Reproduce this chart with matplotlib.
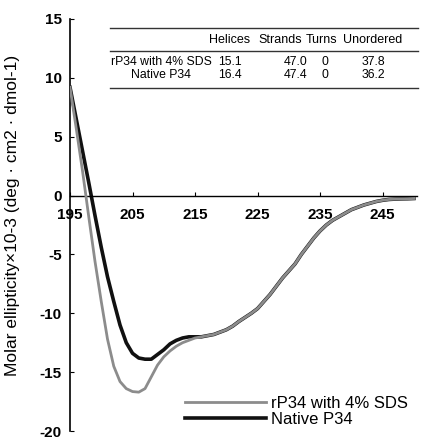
import numpy as np
import matplotlib
matplotlib.use("Agg")
import matplotlib.pyplot as plt
from matplotlib.lines import Line2D

plt.rcParams['font.family'] = ['Liberation Sans', 'DejaVu Sans']
plt.rcParams['axes.unicode_minus'] = False

# wavelength (nm), 1 nm steps
wavelength = list(range(195, 251))

# rP34 with 4% SDS (grey)
sds = [9.2, 5.7, 2.1, -1.8, -5.6, -9.0, -12.2, -14.5, -15.8, -16.4,
       -16.65, -16.7, -16.4, -15.4, -14.4, -13.7, -13.2, -12.8, -12.5, -12.3,
       -12.1, -12.0, -11.9, -11.8, -11.6, -11.4, -11.1, -10.7, -10.35, -10.0,
       -9.6, -9.0, -8.4, -7.7, -7.0, -6.4, -5.8, -5.0, -4.3, -3.6,
       -3.0, -2.5, -2.1, -1.8, -1.5, -1.2, -1.0, -0.8, -0.65, -0.5,
       -0.4, -0.33, -0.3, -0.28, -0.27, -0.25]

# Native P34 (black)
native = [9.2, 6.5, 3.8, 1.1, -1.7, -4.4, -6.9, -9.0, -11.0, -12.5,
          -13.4, -13.8, -13.9, -13.9, -13.5, -13.1, -12.6, -12.3, -12.1, -12.0,
          -12.0, -12.0, -11.9, -11.8, -11.6, -11.4, -11.1, -10.7, -10.35, -10.0,
          -9.6, -9.0, -8.4, -7.7, -7.0, -6.4, -5.8, -5.0, -4.3, -3.6,
          -3.0, -2.5, -2.1, -1.8, -1.5, -1.2, -1.0, -0.8, -0.65, -0.5,
          -0.4, -0.33, -0.3, -0.28, -0.27, -0.25]

# secondary structure table
tab_cols = ["Helices", "Strands", "Turns", "Unordered"]
tab_rows = ["rP34 with 4% SDS", "Native P34"]
tab_vals = [["15.1", "47.0", "0", "37.8"],
            ["16.4", "47.4", "0", "36.2"]]

W, H = 422, 440
fig = plt.figure(figsize=(W/100, H/100), dpi=100)
ax = fig.add_axes([70/W, 9/H, 347/W, 412/H])

ax.plot(wavelength, native, color='#111111', lw=2.6, zorder=2, label='Native P34')
ax.plot(wavelength, sds, color='#8c8c8c', lw=2.0, zorder=3, label='rP34 with 4% SDS')

ax.set_xlim(195, 250.5)
ax.set_ylim(-20, 15)
ax.set_xticks(np.arange(195, 250, 10))
ax.set_yticks(np.arange(-20, 16, 5))

ax.spines['top'].set_visible(False)
ax.spines['right'].set_visible(False)
ax.spines['bottom'].set_position(('data', 0))
ax.spines['left'].set_linewidth(1.2)
ax.spines['bottom'].set_linewidth(1.0)
ax.tick_params(axis='x', direction='in', length=3, pad=9, labelsize=11)
ax.tick_params(axis='y', direction='in', length=3, pad=6, labelsize=11)
for lbl in ax.get_xticklabels() + ax.get_yticklabels():
    lbl.set_fontweight('bold')

ax.set_ylabel("Molar ellipticity×10-3 (deg · cm2 · dmol-1)", fontsize=12.5)
ax.yaxis.set_label_coords(-0.144, 0.524)

# legend: grey first, then black
h, l = ax.get_legend_handles_labels()
ax.legend([h[1], h[0]], [l[1], l[0]], loc='lower left', bbox_to_anchor=(0.33, 0.01),
          frameon=False, fontsize=12, handlelength=4.9, handletextpad=0.3,
          labelspacing=0.05, borderpad=0, borderaxespad=0)

# table in the upper right
def fx(px):
    return px / W

def fy(px):
    return 1 - px / H

for yline in [28, 51, 88]:
    fig.add_artist(Line2D([fx(110), fx(418)], [fy(yline), fy(yline)], color='#333333', lw=1.0))

col_x = [230, 280, 322, 373]
val_x = [230, 296, 325, 373]
for c, x in zip(tab_cols, col_x):
    fig.text(fx(x), fy(40), c, ha='center', va='center', fontsize=9)
for i, (r, yy) in enumerate(zip(tab_rows, [62, 75])):
    fig.text(fx(161), fy(yy), r, ha='center', va='center', fontsize=8.8)
    for v, x in zip(tab_vals[i], val_x):
        fig.text(fx(x), fy(yy), v, ha='center', va='center', fontsize=8.8)

fig.savefig("out.png", dpi=100)
